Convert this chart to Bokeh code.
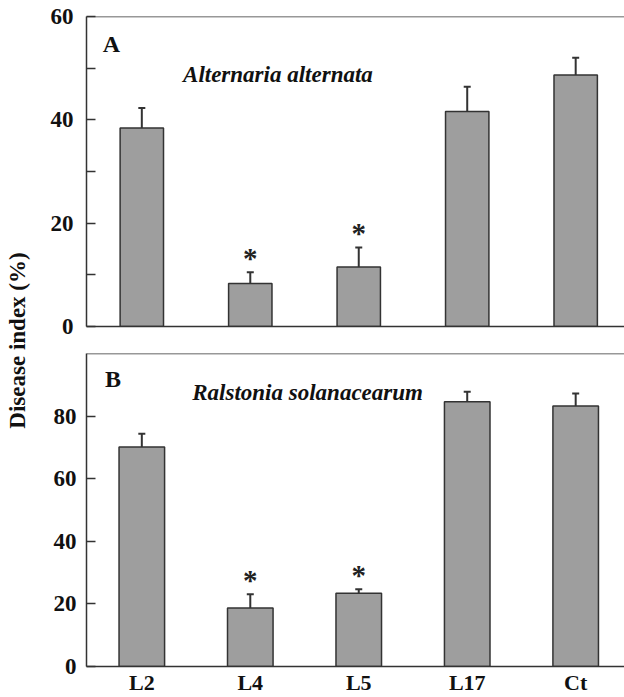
import math
from bokeh.plotting import figure
from bokeh.layouts import row, column
from bokeh.models import (ColumnDataSource, FixedTicker, Whisker, TeeHead, Span, Label)
from bokeh.embed import file_html
from bokeh.resources import INLINE
from bokeh.core.properties import value

categories = ["L2", "L4", "L5", "L17", "Ct"]
a_values = [38.4, 8.3, 11.5, 41.6, 48.7]
a_errors = [3.9, 2.2, 3.8, 4.8, 3.3]
a_marks = ["", "*", "*", "", ""]
b_values = [70.1, 18.7, 23.4, 84.6, 83.2]
b_errors = [4.3, 4.4, 1.3, 3.2, 4.0]
b_marks = ["", "*", "*", "", ""]
a_ticks = [0, 10, 20, 30, 40, 50, 60]
a_tick_labels = {10: "", 30: "", 50: ""}
b_ticks = [0, 20, 40, 60, 80]

FONT = "Liberation Serif"
DARK = "#333333"
BAR = "#9e9e9e"
TXT = "#111111"


def panel(vals, errs, marks, ymax, ticks, overrides, width, height, border_left,
          border_top, border_bottom, show_x, letter, species, letter_pos, species_pos,
          bar_w, standoff):
    x = list(range(1, len(categories) + 1))
    tops = [v + e for v, e in zip(vals, errs)]
    src = ColumnDataSource(dict(x=x, v=vals, top=tops))
    sig = [i for i, m in enumerate(marks) if m]
    sig_src = ColumnDataSource(dict(x=[x[i] for i in sig], top=[tops[i] for i in sig],
                                    mark=[marks[i] for i in sig]))
    p = figure(width=width, height=height, x_range=(0.49, 5.45), y_range=(0, ymax),
               output_backend="svg", toolbar_location=None,
               min_border_left=border_left, min_border_right=0,
               min_border_top=border_top, min_border_bottom=border_bottom)
    p.outline_line_color = None
    p.grid.visible = False

    p.vbar(x="x", top="v", bottom=0, width=bar_w, source=src, fill_color=BAR,
           line_color=DARK, line_width=1.5)
    w = Whisker(base="x", lower="v", upper="top", source=src, dimension="height",
                line_color=DARK, line_width=2, lower_head=None,
                upper_head=TeeHead(size=7, line_color=DARK, line_width=2))
    w.level = "overlay"
    p.add_layout(w)
    p.text(x="x", y="top", text="mark", source=sig_src, text_align="center",
           text_baseline="middle", y_offset=-14, text_font=value(FONT),
           text_font_style="bold", text_font_size="29px", text_color="#222222")

    p.add_layout(Span(location=ymax, dimension="width", line_color=DARK, line_width=1.5))

    ya = p.yaxis[0]
    ya.ticker = FixedTicker(ticks=ticks)
    ya.major_label_overrides = overrides
    ya.minor_tick_line_color = None
    ya.major_tick_in = 9
    ya.major_tick_out = 0
    ya.major_tick_line_color = DARK
    ya.major_tick_line_width = 1.5
    ya.axis_line_color = DARK
    ya.axis_line_width = 1.5
    ya.major_label_standoff = standoff
    ya.major_label_text_font = FONT
    ya.major_label_text_font_style = "bold"
    ya.major_label_text_font_size = "23px"
    ya.major_label_text_color = TXT

    xa = p.xaxis[0]
    xa.axis_line_color = DARK
    xa.axis_line_width = 1.5
    xa.major_tick_line_color = None
    xa.major_tick_in = 0
    xa.major_tick_out = 0
    xa.minor_tick_line_color = None
    if show_x:
        xa.ticker = FixedTicker(ticks=x)
        xa.major_label_overrides = {i: c for i, c in zip(x, categories)}
        xa.major_label_standoff = 3
        xa.major_label_text_font = FONT
        xa.major_label_text_font_style = "bold"
        xa.major_label_text_font_size = "22px"
        xa.major_label_text_color = TXT
    else:
        xa.ticker = FixedTicker(ticks=[])
        xa.major_label_standoff = 0

    p.add_layout(Label(x=letter_pos[0], y=letter_pos[1], text=letter,
                       text_font=FONT, text_font_style="bold", text_font_size="24px",
                       text_color=TXT, text_baseline="alphabetic"))
    p.add_layout(Label(x=species_pos[0], y=species_pos[1], text=species,
                       text_font=FONT, text_font_style="bold italic",
                       text_font_size="23px", text_color=TXT,
                       text_baseline="alphabetic"))
    return p


pa = panel(a_values, a_errors, a_marks, 60, a_ticks, a_tick_labels, 586, 340, 48, 16, 14,
           False, "A", "Alternaria alternata", (0.64, 54.6), (1.38, 48.8), 0.40, 13)
pb = panel(b_values, b_errors, b_marks, 100, b_ticks, {}, 586, 357, 45, 13, 29,
           True, "B", "Ralstonia solanacearum", (0.66, 92.0), (1.465, 87.5), 0.42, 10)

lab = figure(width=38, height=697, x_range=(0, 38), y_range=(0, 697),
             x_axis_type=None, y_axis_type=None, output_backend="svg",
             toolbar_location=None, min_border=0)
lab.outline_line_color = None
lab.grid.visible = False
lab.add_layout(Label(x=17, y=697 - 340, text="Disease index (%)", angle=math.pi / 2,
                     text_align="center", text_baseline="middle", text_font=FONT,
                     text_font_style="bold", text_font_size="23px", text_color=TXT))

layout = row(lab, column(pa, pb))
open("out.html", "w").write(file_html(layout, INLINE))
